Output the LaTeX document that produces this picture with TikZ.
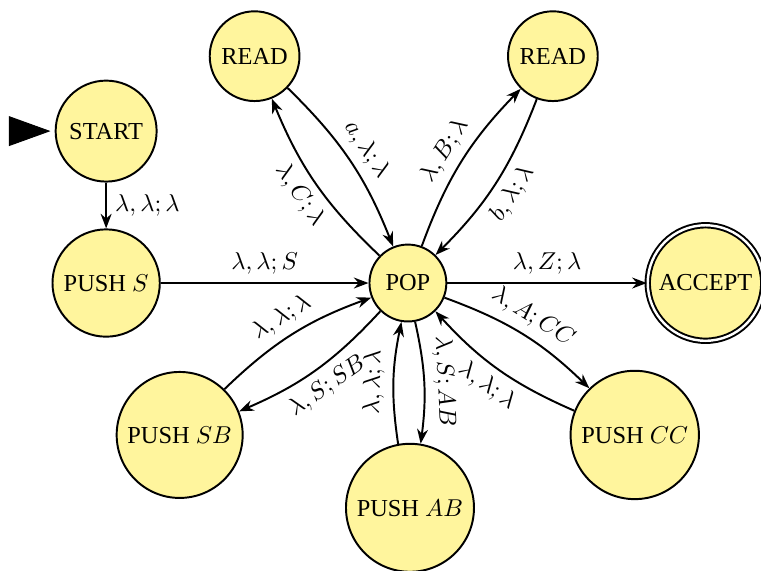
\documentclass[tikz,border=0pt]{standalone}
\usepackage{fontspec}
\setmainfont{Liberation Serif}
\usetikzlibrary{arrows.meta}
\definecolor{stateyellow}{RGB}{255,245,157}

\begin{document}
\begin{tikzpicture}
\tikzstyle{state}=[draw, circle, thick, fill=stateyellow, inner sep=3.5pt]
\tikzstyle{trans}=[thick, -{Stealth[length=6pt, width=4.5pt]}]

\useasboundingbox (0,0) rectangle (10.97,8.23);

\draw (1.53,6.34) node[state, inner sep=4.2pt] (start) {START};
\draw (1.53,4.15) node[state] (pushs) {PUSH $S$};
\draw (5.88,4.15) node[state, inner sep=4.5pt] (pop) {POP};
\draw (3.67,7.42) node[state] (readl) {READ};
\draw (7.97,7.42) node[state] (readr) {READ};
\draw (10.17,4.15) node[state, double, double distance=1pt] (accept) {ACCEPT};
\draw (2.59,1.96) node[state] (pushsb) {PUSH $SB$};
\draw (5.91,0.91) node[state] (pushab) {PUSH $AB$};
\draw (9.15,1.96) node[state] (pushcc) {PUSH $CC$};

\coordinate (init) at (0.15,6.34);
\draw[-{Triangle[length=0.6cm, width=0.43cm]}, shorten >=0.06cm] (init) -- (start);

\draw[trans] (start) edge node[right] {$\lambda, \lambda; \lambda$} (pushs);
\draw[trans] (pushs) edge node[above] {$\lambda, \lambda; S$} (pop);
\draw[trans] (pop) edge node[above] {$\lambda, Z; \lambda$} (accept);

\draw[trans] (readl) edge[bend left=12] node[sloped, above] {$a, \lambda; \lambda$} (pop);
\draw[trans] (pop) edge[bend left=12] node[sloped, below] {$\lambda, C; \lambda$} (readl);
\draw[trans] (pop) edge[bend left=12] node[sloped, above] {$\lambda, B; \lambda$} (readr);
\draw[trans] (readr) edge[bend left=12] node[sloped, below] {$b, \lambda; \lambda$} (pop);
\draw[trans] (pop) edge[bend left=12] node[sloped, below] {$\lambda, S; SB$} (pushsb);
\draw[trans] (pushsb) edge[bend left=12] node[sloped, above] {$\lambda, \lambda; \lambda$} (pop);
\draw[trans] (pop) edge[bend left=10] node[sloped, above] {$\lambda, S; AB$} (pushab);
\draw[trans] (pushab) edge[bend left=10] node[sloped, allow upside down, above] {$\lambda, \lambda; \lambda$} (pop);
\draw[trans] (pop) edge[bend left=12] node[sloped, above] {$\lambda, A; CC$} (pushcc);
\draw[trans] (pushcc) edge[bend left=12] node[sloped, below] {$\lambda, \lambda; \lambda$} (pop);
\end{tikzpicture}
\end{document}
